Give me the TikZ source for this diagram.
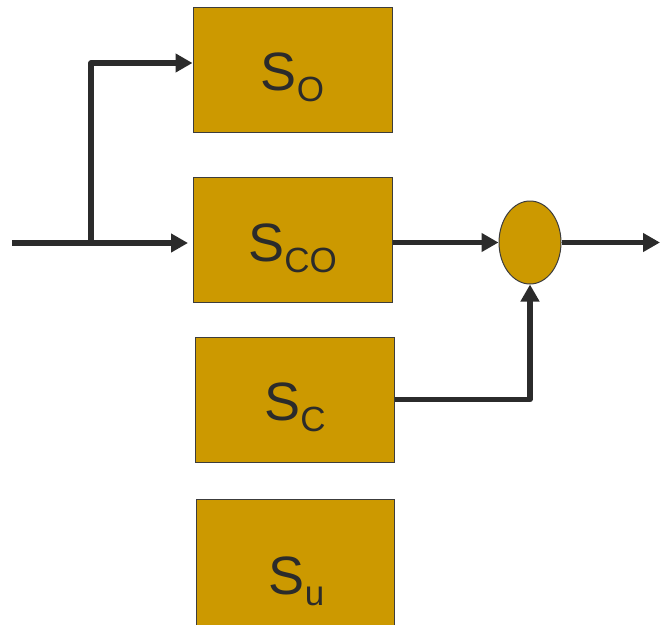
\documentclass[tikz,border=0pt]{standalone}
\usepackage{fontspec}
\setmainfont{Liberation Sans}
\usetikzlibrary{arrows.meta,shapes.geometric}
\definecolor{boxfill}{HTML}{CC9900}
\definecolor{ink}{HTML}{2B2B2B}
\definecolor{edge}{HTML}{3C3C3C}
\newcommand{\blocklabel}[2]{{\fontsize{54}{54}\selectfont #1\raisebox{-11pt}{\fontsize{35}{35}\selectfont #2}}}
\begin{document}
\begin{tikzpicture}[x=1pt,y=-1pt,
  block/.style={draw=edge,line width=1pt,fill=boxfill,rectangle,inner sep=0pt},
  summer/.style={draw=edge,line width=1pt,fill=boxfill,ellipse,inner sep=0pt,minimum width=62pt,minimum height=83pt},
  lbl/.style={inner sep=0pt,text=ink},
  conn/.style={draw=ink,line width=5.5pt,line join=round,-{Triangle[length=17pt,width=18pt]}}]
\useasboundingbox (0,0) rectangle (660,624);
\begin{scope}
\clip (0,0) rectangle (660,624);
\node[block,minimum width=199pt,minimum height=125pt] (so) at (292.5,69.5) {};
\node[block,minimum width=199pt,minimum height=125pt] (sco) at (292.5,239.5) {};
\node[block,minimum width=199pt,minimum height=125pt] (sc) at (294.5,399.5) {};
\node[block,minimum width=198pt,minimum height=149pt] (su) at (295,573.5) {};
\node[summer] (sum) at (530,242.5) {};
\node[lbl] (tso) at (292.5,77) {\blocklabel{S}{O}};
\node[lbl] (tsco) at (292.5,248) {\blocklabel{S}{CO}};
\node[lbl] (tsc) at (295,407) {\blocklabel{S}{C}};
\node[lbl] (tsu) at (296.5,581.5) {\blocklabel{S}{u}};
\coordinate (in) at (12,243);
\coordinate (br) at (91,243);
\coordinate (bt) at (91,63);
\coordinate (out) at (660,242.5);
\draw[conn,shorten >=4.5pt] (in) -- (in -| sco.west);
\draw[conn] (br) -- (bt) -- (bt -| so.west);
\draw[conn] (sco.east |- sum) -- (sum.west);
\draw[conn] (sum.east) -- (out);
\draw[conn] (sc.east) -| (sum.south);
\end{scope}
\end{tikzpicture}
\end{document}
